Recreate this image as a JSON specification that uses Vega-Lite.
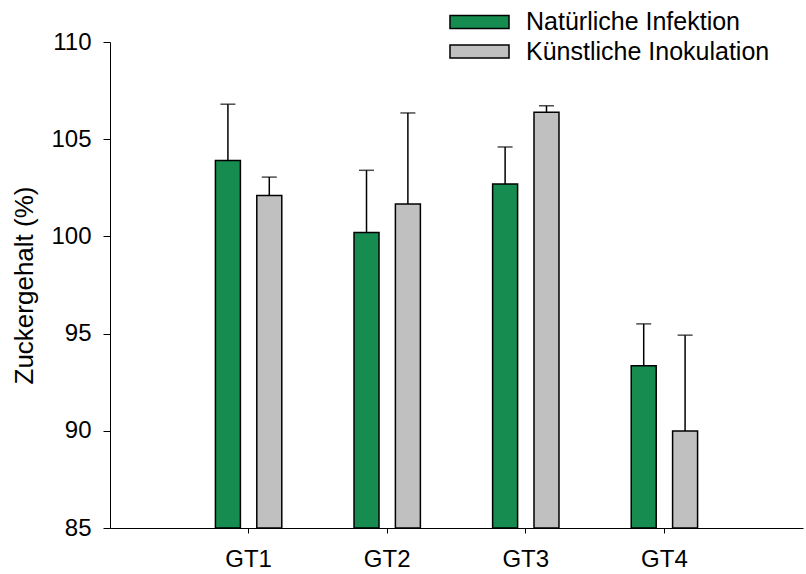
{
  "$schema": "https://vega.github.io/schema/vega-lite/v6.json",
  "autosize": "none",
  "width": 693,
  "height": 486,
  "padding": {"left": 110, "top": 42, "right": 3, "bottom": 46},
  "background": "white",
  "config": {
    "view": {"stroke": null},
    "font": "Liberation Sans",
    "axis": {"grid": false, "domainColor": "black", "tickColor": "black", "labelColor": "black", "titleColor": "black", "labelFont": "Liberation Sans", "titleFont": "Liberation Sans", "titleFontWeight": "normal"}
  },
  "data": {
    "values": [
      {"gt": "GT1", "group": "Natürliche Infektion", "value": 103.9, "upper": 106.8},
      {"gt": "GT1", "group": "Künstliche Inokulation", "value": 102.1, "upper": 103.05},
      {"gt": "GT2", "group": "Natürliche Infektion", "value": 100.2, "upper": 103.4},
      {"gt": "GT2", "group": "Künstliche Inokulation", "value": 101.67, "upper": 106.35},
      {"gt": "GT3", "group": "Natürliche Infektion", "value": 102.7, "upper": 104.6},
      {"gt": "GT3", "group": "Künstliche Inokulation", "value": 106.38, "upper": 106.72},
      {"gt": "GT4", "group": "Natürliche Infektion", "value": 93.35, "upper": 95.5},
      {"gt": "GT4", "group": "Künstliche Inokulation", "value": 89.99, "upper": 94.92}
    ]
  },
  "encoding": {
    "x": {
      "field": "gt", "type": "nominal",
      "scale": {"paddingInner": 0, "paddingOuter": 0.5},
      "axis": {"title": null, "labelAngle": 0, "labelFontSize": 24, "tickSize": 5, "labelPadding": 14, "domainWidth": 1, "tickWidth": 1}
    },
    "xOffset": {
      "field": "group", "type": "nominal",
      "sort": ["Natürliche Infektion", "Künstliche Inokulation"],
      "scale": {"paddingInner": 0.396, "paddingOuter": 0.873}
    }
  },
  "layer": [
    {
      "mark": {"type": "bar", "stroke": "black", "strokeWidth": 1.5},
      "encoding": {
        "y": {
          "field": "value", "type": "quantitative",
          "scale": {"domain": [85, 110], "zero": false, "nice": false},
          "axis": {"title": "Zuckergehalt (%)", "titleFontSize": 26, "labelFontSize": 24, "values": [85, 90, 95, 100, 105, 110], "tickSize": 7, "labelPadding": 12, "titlePadding": 13}
        },
        "y2": {"datum": 85},
        "fill": {
          "field": "group", "type": "nominal",
          "sort": ["Natürliche Infektion", "Künstliche Inokulation"],
          "scale": {"domain": ["Natürliche Infektion", "Künstliche Inokulation"], "range": ["#178c50", "#c0c0c0"]},
          "legend": {
            "title": null, "orient": "none", "legendX": 357, "legendY": -32.5,
            "symbolType": "M-3,-0.66H3V0.66H-3Z", "symbolSize": 387,
            "symbolStrokeColor": "black", "symbolStrokeWidth": 1.5,
            "labelFontSize": 25, "labelColor": "black", "labelOffset": 34, "rowPadding": 3.5,
            "labelLimit": 400,
            "symbolOpacity": 1,
            "encode": {"symbols": {"update": {"stroke": {"value": "black"}, "strokeWidth": {"value": 1.5}, "opacity": {"value": 1}}}}
          }
        }
      }
    },
    {
      "mark": {"type": "rule", "color": "black", "strokeWidth": 1.5},
      "encoding": {
        "y": {"field": "value", "type": "quantitative"},
        "y2": {"field": "upper"}
      }
    },
    {
      "mark": {"type": "tick", "color": "black", "orient": "horizontal", "size": 15, "thickness": 1.5},
      "encoding": {
        "y": {"field": "upper", "type": "quantitative"}
      }
    }
  ]
}
